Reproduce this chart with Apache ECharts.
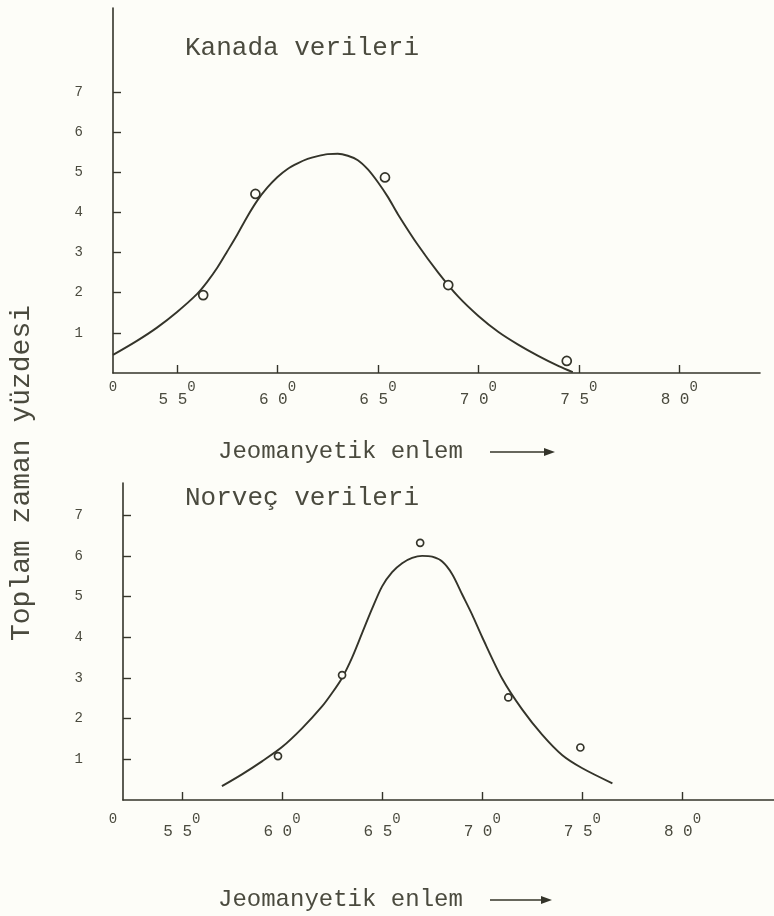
<!DOCTYPE html>
<html>
<head>
<meta charset="utf-8">
<script src="https://cdn.jsdelivr.net/npm/echarts@6/dist/echarts.min.js"></script>
<style>
  html, body { margin: 0; padding: 0; background: #fdfdf8; }
  #c { width: 774px; height: 916px; }
</style>
</head>
<body>
<div id="c"></div>
<script>
// Tick positions shared by both panels
const xTicks = [55, 60, 65, 70, 75, 80];
const yTicks = [1, 2, 3, 4, 5, 6, 7];

// Kanada: observed points (latitude, % of total time)
const kanadaObsLat = [56.3, 58.9, 65.35, 68.5, 74.4];
const kanadaObsPct = [1.94, 4.46, 4.87, 2.19, 0.30];
// Kanada: fitted curve
const kanadaFitLat = [51.81, 53, 54, 55, 56, 56.5, 57, 57.5, 58, 58.5, 59, 59.5, 60, 60.5, 61, 61.5, 62, 62.5, 63, 63.5, 64, 64.5, 65, 65.5, 66, 67, 68, 69, 70, 71, 72, 73, 74, 74.7];
const kanadaFitPct = [0.45, 0.8, 1.13, 1.52, 1.97, 2.27, 2.62, 3.03, 3.45, 3.9, 4.3, 4.62, 4.88, 5.08, 5.22, 5.33, 5.40, 5.45, 5.46, 5.41, 5.30, 5.07, 4.75, 4.38, 3.95, 3.18, 2.5, 1.9, 1.42, 1.02, 0.70, 0.42, 0.17, 0.02];

// Norveç: observed points
const norvecObsLat = [59.8, 63.0, 66.9, 71.3, 74.9];
const norvecObsPct = [1.08, 3.07, 6.32, 2.52, 1.29];
// Norveç: fitted curve
const norvecFitLat = [57, 58, 59, 60, 61, 62, 62.5, 63, 63.5, 64, 64.5, 65, 65.5, 66, 66.5, 67, 67.5, 68, 68.5, 69, 69.5, 70, 71, 72, 73, 74, 75, 76.5];
const norvecFitPct = [0.34, 0.63, 0.95, 1.3, 1.76, 2.3, 2.63, 3.0, 3.5, 4.1, 4.7, 5.25, 5.6, 5.82, 5.95, 6.0, 5.98, 5.86, 5.55, 5.05, 4.55, 4.0, 2.98, 2.22, 1.6, 1.1, 0.78, 0.41];

const INK = '#34342a';
const TXT = '#4a4a3e';
const BG = '#fdfdf8';
const MONO = '"Liberation Mono", "DejaVu Sans Mono", monospace';

const zip = (a, b) => a.map((v, i) => [v, b[i]]);

function xAxisFor(gridIndex, min, max, margin, originShift) {
  return {
    type: 'value', gridIndex, min, max,
    axisLine: { show: true, onZero: false, lineStyle: { color: INK, width: 1.6 } },
    axisTick: { show: true, inside: true, length: 8, customValues: xTicks, lineStyle: { color: INK, width: 1.4 } },
    axisLabel: {
      show: true, margin,
      customValues: [min].concat(xTicks),
      formatter: v => v < 54 ? '{o|0}' : '{d|' + String(Math.round(v)).split('').join(' ') + '}{s|0}',
      rich: {
        d: { fontFamily: MONO, fontSize: 16, color: TXT, lineHeight: 28, verticalAlign: 'bottom' },
        s: { fontFamily: MONO, fontSize: 14, color: TXT, lineHeight: 28, verticalAlign: 'top' },
        o: { fontFamily: MONO, fontSize: 14, color: TXT, lineHeight: 28, verticalAlign: 'top', padding: [0, originShift, 0, 0] }
      }
    },
    splitLine: { show: false }
  };
}

function yAxisFor(gridIndex, max, margin) {
  return {
    type: 'value', gridIndex, min: 0, max,
    axisLine: { show: true, onZero: false, lineStyle: { color: INK, width: 1.6 } },
    axisTick: { show: true, inside: true, length: 8, customValues: yTicks, lineStyle: { color: INK, width: 1.4 } },
    axisLabel: { show: true, margin, customValues: yTicks, fontFamily: MONO, fontSize: 14, color: TXT },
    splitLine: { show: false }
  };
}

function curve(idx, data) {
  return {
    type: 'line', xAxisIndex: idx, yAxisIndex: idx, data, smooth: 0.3,
    showSymbol: false, symbol: 'none',
    lineStyle: { color: INK, width: 1.9 }, z: 2
  };
}

function dots(idx, data, size) {
  return {
    type: 'scatter', xAxisIndex: idx, yAxisIndex: idx, data,
    symbol: 'circle', symbolSize: size,
    itemStyle: { color: BG, borderColor: INK, borderWidth: 1.7, opacity: 1 }, z: 3
  };
}

function label(text, x, y, size) {
  return {
    type: 'text', x, y,
    style: { text, fill: TXT, font: size + 'px ' + MONO, textAlign: 'left', textVerticalAlign: 'middle', align: 'left', verticalAlign: 'middle' }
  };
}

function arrow(x1, x2, y) {
  return [
    { type: 'line', shape: { x1, y1: y, x2: x2 - 8, y2: y }, style: { stroke: INK, lineWidth: 1.6 } },
    { type: 'polygon', shape: { points: [[x2 - 11, y - 4], [x2, y], [x2 - 11, y + 4]] }, style: { fill: INK } }
  ];
}

const chart = echarts.init(document.getElementById('c'), null, { renderer: 'canvas' });
chart.setOption({
  backgroundColor: BG,
  animation: false,
  grid: [
    { left: 113, top: 8, width: 647, height: 365 },
    { left: 123, top: 483, width: 651, height: 317 }
  ],
  xAxis: [
    xAxisFor(0, 51.81, 84.02, 7, 0),
    xAxisFor(1, 52.06, 84.57, 12, 20)
  ],
  yAxis: [
    yAxisFor(0, 9.09, 30),
    yAxisFor(1, 7.79, 40)
  ],
  series: [
    curve(0, zip(kanadaFitLat, kanadaFitPct)),
    dots(0, zip(kanadaObsLat, kanadaObsPct), 9),
    curve(1, zip(norvecFitLat, norvecFitPct)),
    dots(1, zip(norvecObsLat, norvecObsPct), 7)
  ],
  graphic: [
    label('Kanada verileri', 185, 48, 26),
    label('Norveç verileri', 185, 498, 26),
    label('Jeomanyetik enlem', 218, 452, 24),
    label('Jeomanyetik enlem', 218, 900, 24),
    ...arrow(490, 555, 452),
    ...arrow(490, 552, 900),
    {
      type: 'text', x: 22, y: 473, rotation: Math.PI / 2,
      style: { text: 'Toplam zaman yüzdesi', fill: TXT, font: '28px ' + MONO, textAlign: 'center', textVerticalAlign: 'middle', align: 'center', verticalAlign: 'middle' }
    }
  ]
});
</script>
</body>
</html>
